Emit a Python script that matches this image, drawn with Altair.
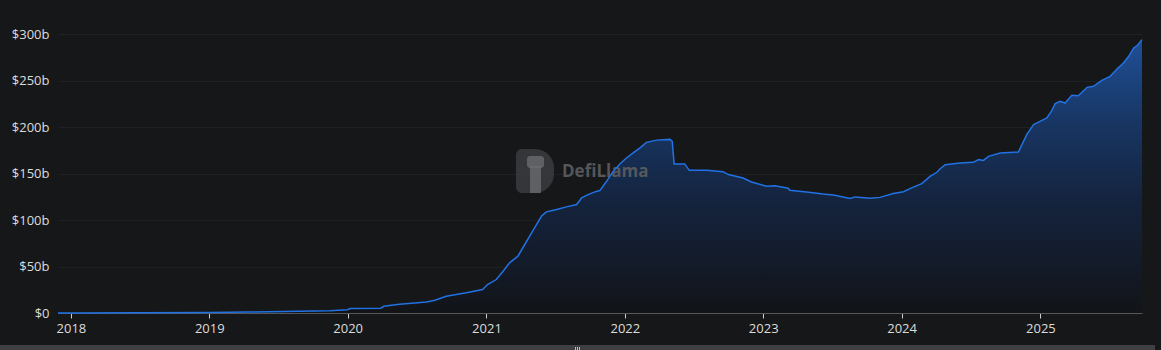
import altair as alt
import pandas as pd

# ---- data (total value locked, billions USD) ----
dates = [
    "2017-11-28", "2018-01-01", "2018-07-01", "2019-01-01", "2019-04-17", "2019-08-27",
    "2019-11-15", "2020-01-01", "2020-01-07", "2020-03-28", "2020-04-05", "2020-05-17",
    "2020-07-27", "2020-08-18", "2020-09-17", "2020-11-09", "2020-12-22", "2021-01-04",
    "2021-01-27", "2021-02-14", "2021-03-03", "2021-03-25", "2021-04-12", "2021-04-25",
    "2021-05-13", "2021-05-26", "2021-06-08", "2021-07-05", "2021-07-31", "2021-08-27",
    "2021-09-09", "2021-09-26", "2021-10-14", "2021-10-27", "2021-11-14", "2021-12-01",
    "2021-12-19", "2022-01-05", "2022-01-23", "2022-02-10", "2022-02-27", "2022-03-26",
    "2022-04-30", "2022-05-06", "2022-05-11", "2022-06-08", "2022-06-20", "2022-08-05",
    "2022-09-17", "2022-10-01", "2022-11-09", "2022-12-01", "2023-01-10", "2023-02-01",
    "2023-03-08", "2023-03-12", "2023-04-25", "2023-06-08", "2023-07-05", "2023-08-18",
    "2023-08-31", "2023-10-10", "2023-11-05", "2023-12-10", "2024-01-06", "2024-01-23",
    "2024-02-23", "2024-03-16", "2024-04-03", "2024-04-11", "2024-04-25", "2024-06-03",
    "2024-07-08", "2024-07-22", "2024-08-04", "2024-08-17", "2024-09-17", "2024-11-04",
    "2024-11-26", "2024-12-14", "2024-12-31", "2025-01-18", "2025-01-31", "2025-02-09",
    "2025-02-22", "2025-03-07", "2025-03-25", "2025-04-11", "2025-05-04", "2025-05-21",
    "2025-06-12", "2025-07-04", "2025-07-22", "2025-08-08", "2025-08-22", "2025-09-04",
    "2025-09-13", "2025-09-26",
]
tvl = [
    0.05, 0.1, 0.3, 0.6, 1.1, 1.8,
    2.5, 3.6, 4.8, 5.0, 7.2, 9.5,
    11.8, 13.8, 18.1, 21.7, 25.3, 30.6,
    36.0, 44.9, 54.0, 61.1, 73.7, 82.6,
    95.2, 104.1, 108.8, 111.3, 114.2, 116.7,
    123.8, 127.4, 130.3, 131.7, 141.7, 152.4,
    160.4, 166.8, 172.3, 177.6, 183.6, 186.0,
    186.8, 184.7, 160.4, 160.4, 153.5, 153.5,
    152.1, 148.9, 145.3, 141.0, 136.3, 137.0,
    134.2, 132.0, 130.3, 128.1, 127.0, 123.1,
    124.9, 123.4, 124.4, 128.5, 130.5, 133.8,
    139.2, 147.0, 151.4, 155.0, 159.6, 161.4,
    162.1, 165.0, 164.2, 168.5, 172.1, 173.2,
    191.9, 202.7, 206.2, 209.8, 217.7, 225.2,
    227.7, 225.9, 234.2, 233.8, 242.8, 243.9,
    250.3, 254.6, 262.5, 269.0, 276.2, 285.2,
    287.6, 294.1,
]
year_ticks = [2018, 2019, 2020, 2021, 2022, 2023, 2024, 2025]
y_ticks = [0, 50, 100, 150, 200, 250, 300]
watermark = ["DefiLlama"]

df = pd.DataFrame({"date": dates, "tvl": tvl})

FONT = "Open Sans"
LABEL = "#dcdcdc"

x_enc = alt.X(
    "date:T",
    scale=alt.Scale(
        type="utc",
        domain=[alt.DateTime(year=2017, month=11, date=28, utc=True),
                alt.DateTime(year=2025, month=9, date=26, utc=True)],
        nice=False,
    ),
    axis=alt.Axis(
        title=None,
        values=[alt.DateTime(year=y, month=1, date=1, utc=True) for y in year_ticks],
        format="%Y",
        grid=False,
        domainColor="#55575b",
        domainWidth=1,
        tickColor="#d0d0d0",
        tickSize=5,
        labelColor=LABEL,
        labelFontSize=13,
        labelFont=FONT,
        labelPadding=4,
        labelFlush=False,
    ),
)
y_enc = alt.Y(
    "tvl:Q",
    scale=alt.Scale(domain=[0, 326], nice=False),
    axis=alt.Axis(
        title=None,
        values=y_ticks,
        labelExpr="datum.value == 0 ? '$0' : '$' + datum.value + 'b'",
        domain=False,
        ticks=False,
        gridColor="#202124",
        gridWidth=1,
        labelColor=LABEL,
        labelFontSize=13,
        labelFont=FONT,
        labelPadding=9,
    ),
)

base = alt.Chart(df)

area = base.mark_area(
    interpolate="linear",
    color=alt.Gradient(
        gradient="linear",
        stops=[
            alt.GradientStop(color="#1f4f97", offset=0),
            alt.GradientStop(color="#183663", offset=0.3),
            alt.GradientStop(color="#14233d", offset=0.6),
            alt.GradientStop(color="#121418", offset=1),
        ],
        x1=1, x2=1, y1=0, y2=1,
    ),
).encode(x=x_enc, y=y_enc)

line = base.mark_line(color="#2172E5", strokeWidth=1.5, interpolate="linear").encode(
    x="date:T", y="tvl:Q"
)

wm_df = pd.DataFrame({"t": watermark})
logo = alt.Chart(wm_df).mark_rect(
    color="#3b3c3f",
    opacity=0.85,
    cornerRadiusTopLeft=6,
    cornerRadiusBottomLeft=6,
    cornerRadiusTopRight=20,
    cornerRadiusBottomRight=20,
).encode(x=alt.value(458), x2=alt.value(496), y=alt.value(139), y2=alt.value(183))
llama_head = alt.Chart(wm_df).mark_rect(color="#6a6b6e", opacity=0.8, cornerRadius=3).encode(
    x=alt.value(469), x2=alt.value(486), y=alt.value(146), y2=alt.value(158)
)
llama_body = alt.Chart(wm_df).mark_rect(color="#6a6b6e", opacity=0.8).encode(
    x=alt.value(472), x2=alt.value(483), y=alt.value(156), y2=alt.value(183)
)
wm_text = alt.Chart(wm_df).mark_text(
    align="left", baseline="middle", fontSize=17, fontWeight="bold",
    font=FONT, color="#5c5d60", opacity=0.9,
).encode(text="t:N", x=alt.value(504), y=alt.value(162))

scrollbar = alt.Chart(wm_df).mark_rect(color="#3e3f42").encode(
    x=alt.value(-58), x2=alt.value(1097), y=alt.value(335), y2=alt.value(345)
)
grips = [
    alt.Chart(wm_df).mark_rule(color="#bdbdbd", strokeWidth=1).encode(
        x=alt.value(px), y=alt.value(337), y2=alt.value(341)
    )
    for px in (517.5, 519.5, 521.5)
]

chart = alt.layer(area, logo, llama_head, llama_body, wm_text, line, scrollbar, *grips).properties(
    width=1084,
    height=303,
    padding={"left": 58, "top": 10, "right": 19, "bottom": 37},
    autosize=alt.AutoSizeParams(type="none"),
    background="#161719",
).configure_view(stroke=None)

chart.save("out.html", embed_options={"renderer": "svg", "actions": False})
